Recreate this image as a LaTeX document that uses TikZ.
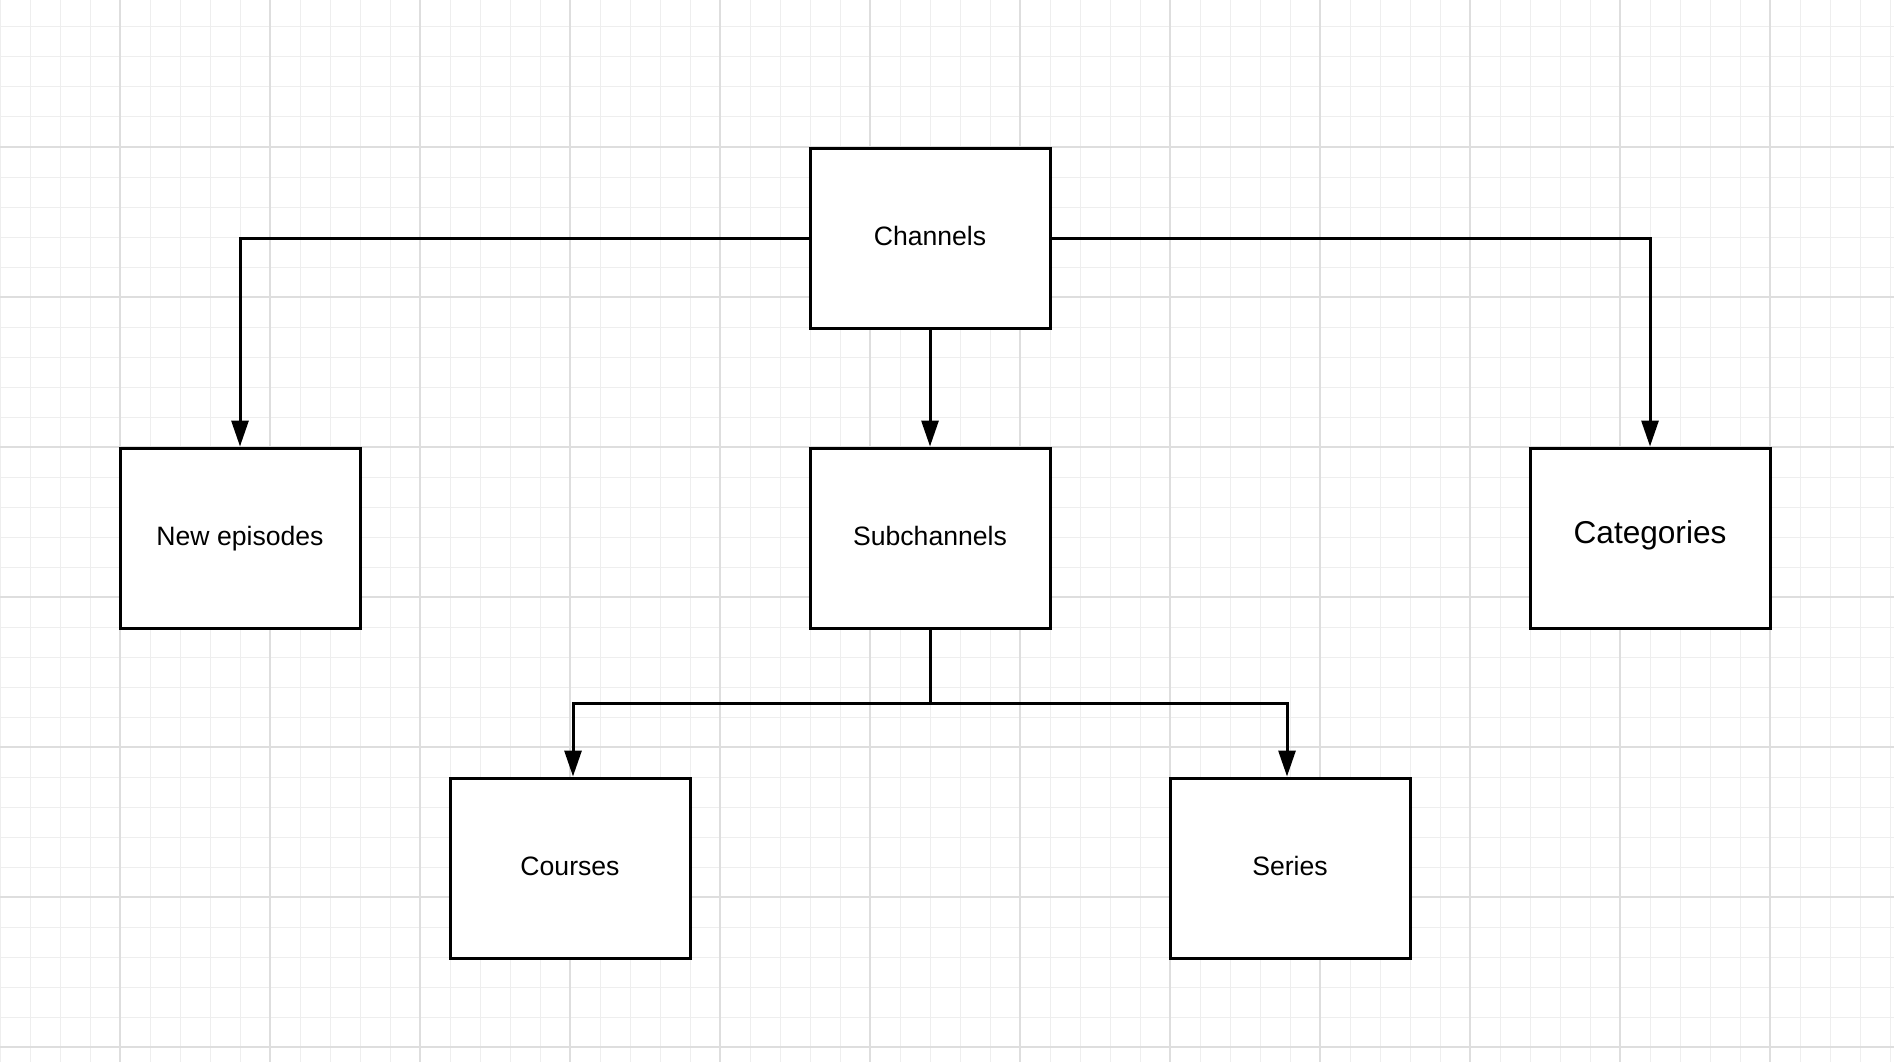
\documentclass[tikz,border=0pt]{standalone}
\usepackage{fontspec}
\setmainfont{Liberation Sans}
\usetikzlibrary{arrows.meta}
\definecolor{gridminor}{HTML}{EEEEEE}
\definecolor{gridmajor}{HTML}{DEDEDE}
\tikzset{
  box/.style={draw=black, fill=white, line width=3pt, minimum width=240pt, minimum height=180pt,
    inner sep=0pt, text height=19pt, text depth=0pt, font=\fontsize{26.6}{30}\selectfont},
  conn/.style={draw=black, line width=3pt},
  arr/.style={conn, -{Triangle[width=17pt,length=26pt]}},
}
\begin{document}
\begin{tikzpicture}[x=1pt,y=-1pt]
\useasboundingbox (0,0) rectangle (1894,1062);
\fill[white] (0,0) rectangle (1894,1062);
% grid
\foreach \gx in {0,30,...,1890} {\draw[gridminor, line width=1pt] (\gx,0) -- (\gx,1062);}
\foreach \gy in {27,57,...,1047} {\draw[gridminor, line width=1pt] (0,\gy) -- (1894,\gy);}
\foreach \gx in {120,270,...,1770} {\draw[gridmajor, line width=1.2pt] (\gx,0) -- (\gx,1062);}
\foreach \gy in {147,297,...,1047} {\draw[gridmajor, line width=1.2pt] (0,\gy) -- (1894,\gy);}
% nodes
\node[box] (ch) at (930,238) {\raisebox{2.5pt}{Channels}};
\node[box] (ne) at (240,538) {\raisebox{2.5pt}{New episodes}};
\node[box] (sub) at (930,538) {\raisebox{2.5pt}{Subchannels}};
\node[box, text height=22.6pt, font=\fontsize{31.6}{36}\selectfont] (cat) at (1650,538) {\raisebox{5.5pt}{Categories}};
\node[box] (co) at (570,868) {\raisebox{2.5pt}{Courses}};
\node[box] (se) at (1290,868) {\raisebox{2.5pt}{Series}};
\coordinate (jn) at (930,703);
% connectors
\draw[arr] (ch.west) -| (ne.north);
\draw[arr] (ch.east) -| (cat.north);
\draw[arr] (ch.south) -- (sub.north);
\draw[conn] (sub.south) -- (jn);
\draw[arr] (jn) -| ([xshift=3pt]co.north);
\draw[arr] (jn) -| ([xshift=-3pt]se.north);
\end{tikzpicture}
\end{document}
